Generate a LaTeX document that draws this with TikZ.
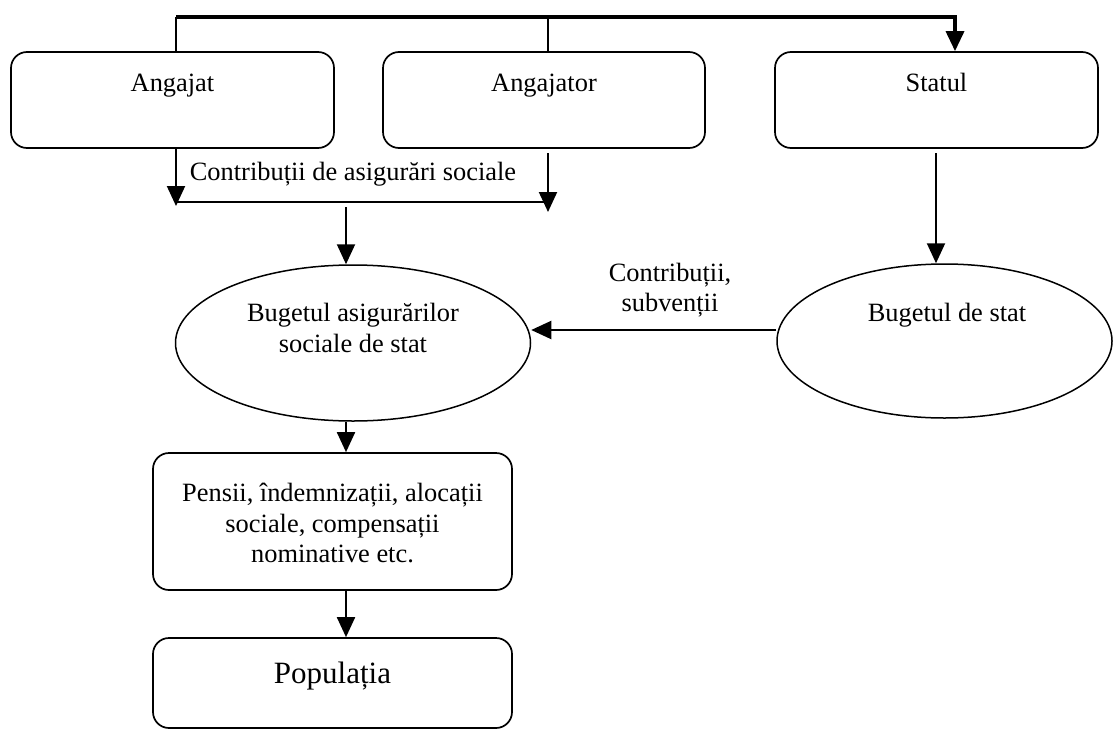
\documentclass[tikz,border=0pt]{standalone}
\usepackage{fontspec}
\setmainfont{Liberation Serif}
\usetikzlibrary{arrows.meta,shapes.geometric}
\begin{document}
\begin{tikzpicture}[x=1pt,y=-1pt,
  box/.style={draw,line width=1.7pt,rounded corners=16pt,inner sep=0pt},
  oval/.style={draw,ellipse,line width=1.5pt,inner sep=0pt},
  txt/.style={font=\fontsize{26.4}{30.5}\selectfont,align=center,inner sep=0pt},
  bigtxt/.style={font=\fontsize{31}{34}\selectfont,align=center,inner sep=0pt},
  tip/.style={-{Triangle[length=20pt,width=18pt]}},
  flow/.style={line width=2pt,tip},
  wire/.style={line width=2pt},
  bus/.style={line width=3.4pt}]
\useasboundingbox (0,0) rectangle (1113,731);

% boxes of the three contributors
\node[box,minimum width=323pt,minimum height=96pt] (angajat)   at (172.5,100) {};
\node[box,minimum width=322pt,minimum height=96pt] (angajator) at (544,100)   {};
\node[box,minimum width=323pt,minimum height=96pt] (statul)    at (936.5,100) {};
\node[txt,anchor=base] (tangajat)   at (172.5,91) {Angajat};
\node[txt,anchor=base] (tangajator) at (544,91)   {Angajator};
\node[txt,anchor=base] (tstatul)    at (936.5,91) {Statul};

% the two budgets
\node[oval,minimum width=355pt,minimum height=156pt] (bass) at (353,343)   {};
\node[oval,minimum width=335pt,minimum height=154pt] (bst)  at (944.5,341) {};
\node[txt] (tbass) at (353,328) {Bugetul asigurărilor\\sociale de stat};
\node[txt,anchor=base] (tbst) at (947,321) {Bugetul de stat};

% payments and the population
\node[box,minimum width=359pt,minimum height=137pt] (pensii) at (332.5,521.5) {};
\node[box,minimum width=359pt,minimum height=90pt]  (pop)    at (332.5,683)   {};
\node[txt]    (tpensii) at (332.5,523) {Pensii, îndemnizații, alocații\\sociale, compensații\\nominative etc.};
\node[bigtxt,anchor=base] (tpop) at (332.5,683) {Populația};

% labels on the flows
\node[txt,anchor=base] (lcas) at (353,180) {Contribuții de asigurări sociale};
\node[txt] (lsub) at (670,290) {Contribuții,\\subvenții};

% junction points
\coordinate (jl) at (176,17);
\coordinate (jm) at (548,17);
\coordinate (jr) at (955,17);
\coordinate (cl) at (176,202);
\coordinate (cr) at (548,202);
\coordinate (ltip) at (176,206);
\coordinate (rtop) at (548,153);
\coordinate (rtip) at (548,212);
\coordinate (ctop) at (346,207);
\coordinate (stop) at (936,153);
\coordinate (hy) at (0,330);
\coordinate (col) at (346,0);

% top distribution bar
\draw[wire] (jl |- angajat.north) -- (jl);
\draw[wire] (jm |- angajator.north) -- (jm);
\draw[bus,tip] (jl) -- (jr) -- (jr |- statul.north);

% social contributions collected into the budget
\draw[flow] (angajat.south -| ltip) -- (ltip);
\draw[flow] (rtop) -- (rtip);
\draw[wire] (cl) -- (cr);
\draw[flow] (ctop) -- (ctop |- bass.north);

% state budget
\draw[flow] (stop) -- (stop |- bst.north);
\draw[flow] (bst.west |- hy) -- (bass.east |- hy);

% down to the population
\draw[flow] (col |- bass.south) -- (col |- pensii.north);
\draw[flow] (col |- pensii.south) -- (col |- pop.north);
\end{tikzpicture}
\end{document}
